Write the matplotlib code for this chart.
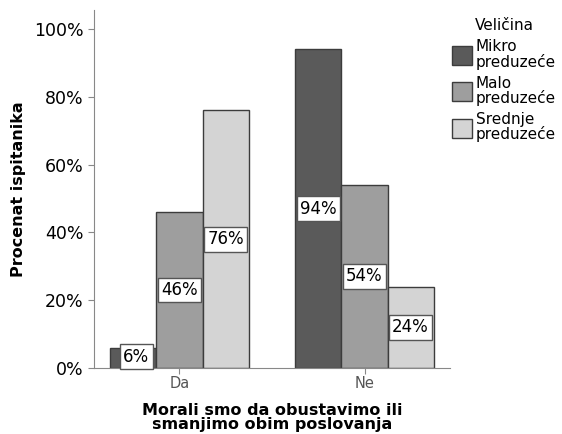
import matplotlib
matplotlib.use("Agg")
import matplotlib.pyplot as plt
import numpy as np
from matplotlib.patches import Patch

categories = ["Da", "Ne"]
series_names = ["Mikro\npreduzeće", "Malo\npreduzeće", "Srednje\npreduzeće"]
mikro = [0.06, 0.94]
malo = [0.46, 0.54]
srednje = [0.76, 0.24]
labels_mikro = ["6%", "94%"]
labels_malo = ["46%", "54%"]
labels_srednje = ["76%", "24%"]
yticks = [0, 0.2, 0.4, 0.6, 0.8, 1.0]
ytick_labels = ["0%", "20%", "40%", "60%", "80%", "100%"]

colors = ["#5a5a5a", "#9e9e9e", "#d4d4d4"]
edge = "#3c3c3c"

fig = plt.figure(figsize=(5.62, 4.34), dpi=100)
ax = fig.add_axes([94/562, 1-368/434, (450-94)/562, (368-10)/434])

x = np.arange(len(categories))
w = 0.249
all_series = [mikro, malo, srednje]
all_labels = [labels_mikro, labels_malo, labels_srednje]
for i, (vals, labs) in enumerate(zip(all_series, all_labels)):
    pos = x + (i - 1) * w
    ax.bar(pos, vals, width=w, color=colors[i], edgecolor=edge, linewidth=1.0, zorder=2)
    for p, v, l in zip(pos, vals, labs):
        xp = p + (0.015 if v < 0.1 else 0)
        ax.text(xp, v / 2 if v > 0.1 else 0.033, l, ha="center", va="center", fontsize=12,
                bbox=dict(boxstyle="square,pad=0.2", fc="white", ec="#555555", lw=1.0), zorder=3)

ax.set_xlim(-0.462, 1.462)
ax.set_ylim(0, 1.056)
ax.set_yticks(yticks)
ax.set_yticklabels(ytick_labels, fontsize=12.5)
ax.set_xticks(x)
ax.set_xticklabels(categories, fontsize=10.5, color="#555555")
for s in ["top", "right"]:
    ax.spines[s].set_visible(False)
for s in ["left", "bottom"]:
    ax.spines[s].set_color("#888888")
ax.tick_params(axis="y", length=4, color="#888888")
ax.tick_params(axis="x", length=4, pad=2, color="#888888")

ax.set_ylabel("Procenat ispitanika", fontsize=11.5, fontweight="bold", labelpad=6)
ax.set_xlabel("Morali smo da obustavimo ili\nsmanjimo obim poslovanja", fontsize=11.5,
              fontweight="bold", labelpad=8.5, linespacing=0.9)

handles = [Patch(facecolor=c, edgecolor=edge) for c in colors]
leg = fig.legend(handles, series_names, title="Veličina", loc="upper left",
                 bbox_to_anchor=(446/562, 1-12/434), frameon=False, fontsize=11,
                 title_fontsize=11, handlelength=1.3, handleheight=1.5, handletextpad=0.25,
                 labelspacing=0.4, borderaxespad=0)
for t in leg.get_texts():
    t.set_linespacing(0.95)

fig.savefig("out.png", dpi=100)
